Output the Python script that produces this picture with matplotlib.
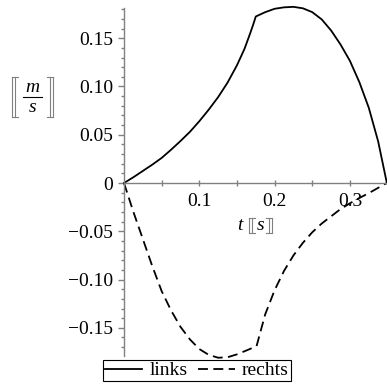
import matplotlib.pyplot as plt
from matplotlib.lines import Line2D
from matplotlib.ticker import FixedLocator, MultipleLocator

plt.rcParams['font.family'] = ['Liberation Serif', 'DejaVu Serif']
plt.rcParams['axes.unicode_minus'] = True

# values
t_links = [0.0, 0.0125, 0.025, 0.0375, 0.05, 0.0625, 0.075, 0.0875, 0.1, 0.1125, 0.125,
           0.1375, 0.15, 0.16, 0.1675, 0.1715, 0.175,
           0.1875, 0.2, 0.2125, 0.225, 0.2375, 0.25, 0.2625, 0.275, 0.2875, 0.3,
           0.3125, 0.325, 0.3375, 0.349]
v_links = [0.0, 0.006, 0.0125, 0.019, 0.026, 0.0345, 0.0435, 0.053, 0.064, 0.076, 0.089,
           0.104, 0.122, 0.139, 0.155, 0.164, 0.1725,
           0.177, 0.1805, 0.182, 0.1825, 0.181, 0.177, 0.1695, 0.158, 0.1435, 0.1265,
           0.1045, 0.078, 0.043, 0.0]

t_rechts = [0.0, 0.0125, 0.025, 0.0375, 0.05, 0.0625, 0.075, 0.0875, 0.1, 0.1125, 0.125,
            0.1375, 0.15, 0.1625, 0.176,
            0.1875, 0.2, 0.2125, 0.225, 0.2375, 0.25, 0.2625, 0.275, 0.2875, 0.3,
            0.3125, 0.325, 0.3375, 0.349]
v_rechts = [0.0, -0.030, -0.058, -0.086, -0.112, -0.132, -0.149, -0.162, -0.172, -0.178, -0.181,
            -0.1805, -0.1775, -0.1735, -0.169,
            -0.136, -0.111, -0.091, -0.075, -0.062, -0.051, -0.042, -0.0345, -0.027, -0.021,
            -0.0155, -0.0105, -0.005, 0.0]

yticks = [-0.15, -0.10, -0.05, 0.0, 0.05, 0.10, 0.15]
ylabels = ['\u22120.15', '\u22120.10', '\u22120.05', '0', '0.05', '0.10', '0.15']
xticks = [0.1, 0.2, 0.3]
xlabels = ['0.1', '0.2', '0.3']

W, H = 387, 388
fig = plt.figure(figsize=(W / 100, H / 100), dpi=100)
ax = fig.add_axes([124 / W, (H - 355.8) / H, 263.6 / W, (355.8 - 8.3) / H])

gray = '#808080'
ax.plot(t_links, v_links, color='black', lw=1.3, clip_on=False, label='links')
ax.plot(t_rechts, v_rechts, color='black', lw=1.3, dashes=(5.5, 3), clip_on=False, label='rechts')

ax.set_xlim(0, 0.35)
ax.set_ylim(-0.179, 0.181)

for s in ['top', 'right']:
    ax.spines[s].set_visible(False)
ax.spines['left'].set_position(('data', 0))
ax.spines['bottom'].set_position(('data', 0))
for s in ['left', 'bottom']:
    ax.spines[s].set_color(gray)
    ax.spines[s].set_linewidth(1.0)

ax.yaxis.set_major_locator(FixedLocator(yticks))
ax.set_yticklabels(ylabels)
ax.yaxis.set_minor_locator(MultipleLocator(0.01))
ax.xaxis.set_major_locator(FixedLocator(xticks))
ax.set_xticklabels(xlabels)
ax.xaxis.set_minor_locator(FixedLocator([0.05, 0.15, 0.25]))

ax.tick_params(axis='y', which='major', direction='out', length=4, width=1, color=gray,
               labelsize=14, pad=4)
ax.tick_params(axis='y', which='minor', direction='out', length=2, width=1, color=gray)
ax.tick_params(axis='x', which='both', direction='inout', length=5, width=1, color=gray,
               labelsize=14, pad=5)
ax.patch.set_visible(False)


def px(x, y):
    return x / W, 1 - y / H


def bracket(x, y0, y1, left=True):
    # double bracket drawn from pixel coordinates
    d = 3 if left else -3
    kw = dict(color=gray, lw=0.8, transform=fig.transFigure)
    for xx in (x, x + d):
        fig.add_artist(Line2D(*zip(px(xx, y0), px(xx, y1)), **kw))
    for yy in (y0, y1):
        fig.add_artist(Line2D(*zip(px(x, yy), px(x + 2 * d, yy)), **kw))


# y label: [[ m / s ]]
bracket(12, 77, 117, True)
bracket(53, 77, 117, False)
fig.text(*px(32.5, 87), 'm', style='italic', fontsize=14, ha='center', va='center')
fig.add_artist(Line2D(*zip(px(23, 97), px(42, 97)), color='black', lw=0.8,
                      transform=fig.transFigure))
fig.text(*px(32.5, 108), 's', style='italic', fontsize=14, ha='center', va='center')

# x label: t [[ s ]]
fig.text(*px(240, 225), 't', style='italic', fontsize=14, ha='center', va='center')
bracket(249, 218, 233, True)
fig.text(*px(261, 225), 's', style='italic', fontsize=14, ha='center', va='center')
bracket(272, 218, 233, False)

leg = fig.legend(loc='center', bbox_to_anchor=px(197, 370.5), ncol=2, fontsize=14,
                 frameon=True, fancybox=False, edgecolor='black', framealpha=1,
                 borderpad=0.1, handlelength=1.9, handletextpad=0.35, columnspacing=0.55,
                 borderaxespad=0)
leg.get_frame().set_linewidth(0.8)

fig.savefig('out.png', dpi=100)
